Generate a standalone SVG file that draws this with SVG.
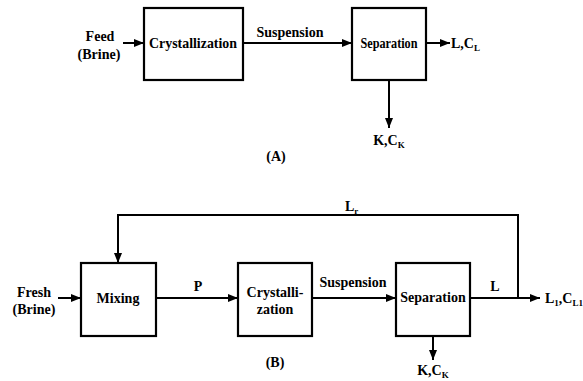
<svg xmlns="http://www.w3.org/2000/svg" width="583" height="381" viewBox="0 0 583 381">
<style>
.box{fill:#fff;stroke:#000;stroke-width:2.2}
.ln{fill:none;stroke:#000;stroke-width:2}
text{font-family:"Liberation Serif","Times New Roman",serif;font-weight:bold;font-size:14px;fill:#000}
.c{text-anchor:middle}
.sub{font-size:9px}
</style>
<defs>
<marker id="ah" markerUnits="userSpaceOnUse" markerWidth="10" markerHeight="10" viewBox="0 0 10 10" refX="10" refY="5" orient="auto">
<path d="M0,1 L10,5 L0,9 Z" fill="#000"/>
</marker>
</defs>
<rect width="583" height="381" fill="#fff"/>
<g id="connectors">
<line class="ln" x1="123" y1="43" x2="144" y2="43" marker-end="url(#ah)"/>
<line class="ln" x1="243" y1="43" x2="352" y2="43" marker-end="url(#ah)"/>
<line class="ln" x1="426" y1="43" x2="450" y2="43" marker-end="url(#ah)"/>
<line class="ln" x1="389" y1="80" x2="389" y2="128" marker-end="url(#ah)"/>
<line class="ln" x1="58" y1="298" x2="81" y2="298" marker-end="url(#ah)"/>
<line class="ln" x1="156" y1="298" x2="238" y2="298" marker-end="url(#ah)"/>
<line class="ln" x1="312" y1="298" x2="396" y2="298" marker-end="url(#ah)"/>
<line class="ln" x1="470" y1="298" x2="540" y2="298" marker-end="url(#ah)"/>
<polyline class="ln" points="518,298 518,215 118,215 118,263" marker-end="url(#ah)"/>
<line class="ln" x1="433" y1="336" x2="433" y2="360" marker-end="url(#ah)"/>
</g>
<g id="crystallization-a">
<rect class="box" x="144" y="8" width="99" height="72"/>
<text class="c" x="193" y="48" textLength="88" lengthAdjust="spacingAndGlyphs">Crystallization</text>
</g>
<g id="separation-a">
<rect class="box" x="352" y="8" width="74" height="72"/>
<text class="c" x="389" y="48" textLength="57" lengthAdjust="spacingAndGlyphs">Separation</text>
</g>
<g id="mixing">
<rect class="box" x="81" y="263" width="75" height="73"/>
<text class="c" x="118" y="303">Mixing</text>
</g>
<g id="crystallization-b">
<rect class="box" x="238" y="263" width="74" height="73"/>
<text class="c" x="275" y="297">Crystalli-</text>
<text class="c" x="275" y="314">zation</text>
</g>
<g id="separation-b">
<rect class="box" x="396" y="263" width="74" height="73"/>
<text class="c" x="433" y="302">Separation</text>
</g>
<g id="labels">
<text class="c" x="100" y="41">Feed</text>
<text class="c" x="99" y="59">(Brine)</text>
<text class="c" x="290" y="37">Suspension</text>
<text x="451" y="48">L,C<tspan class="sub" dy="3">L</tspan></text>
<text class="c" x="389" y="145">K,C<tspan class="sub" dy="3">K</tspan></text>
<text class="c" x="276" y="161">(A)</text>
<text class="c" x="34" y="297">Fresh</text>
<text class="c" x="34" y="314">(Brine)</text>
<text class="c" x="198" y="291">P</text>
<text class="c" x="353" y="287">Suspension</text>
<text class="c" x="495" y="291">L</text>
<text x="345" y="211">L<tspan class="sub" dy="3">r</tspan></text>
<text x="545" y="303">L<tspan class="sub" dy="3">1</tspan><tspan dy="-3">,C</tspan><tspan class="sub" dy="3">L1</tspan></text>
<text class="c" x="433" y="375">K,C<tspan class="sub" dy="3">K</tspan></text>
<text class="c" x="275" y="367">(B)</text>
</g>
</svg>
